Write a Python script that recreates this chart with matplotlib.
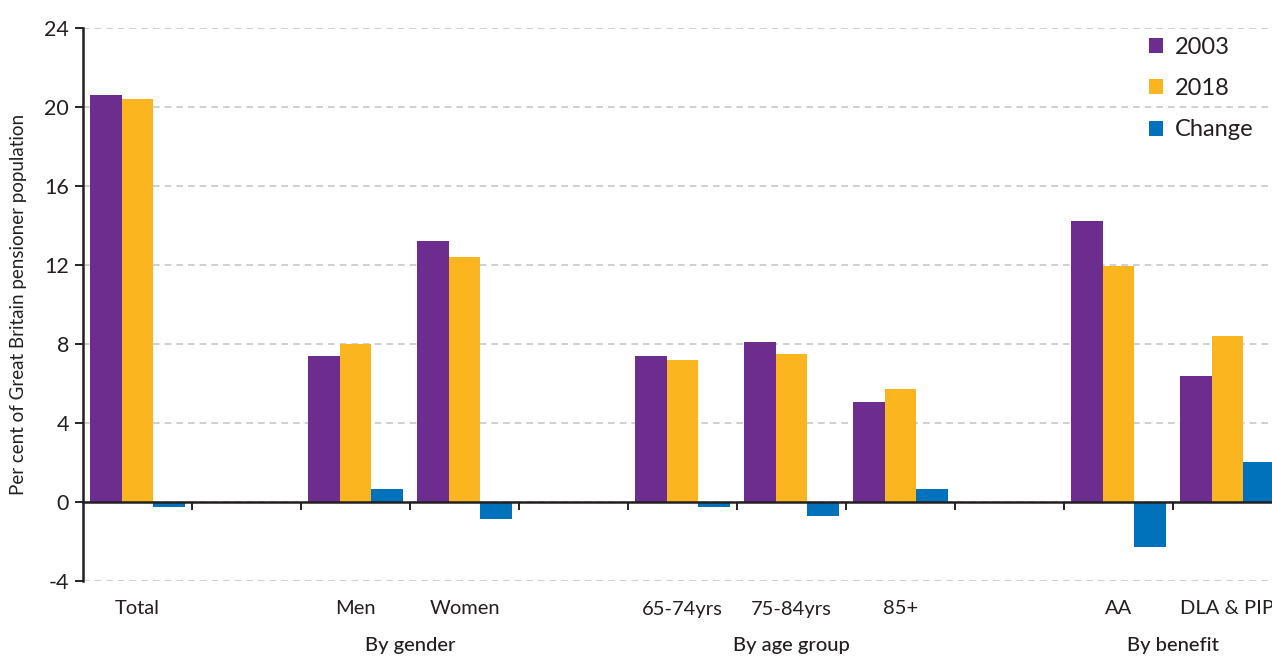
import matplotlib
matplotlib.use('Agg')
import matplotlib.pyplot as plt
import matplotlib.transforms as mtransforms
import numpy as np

plt.rcParams['font.family'] = ['Lato', 'DejaVu Sans']
plt.rcParams['axes.unicode_minus'] = False

categories = ['Total', '', 'Men', 'Women', '', '65-74yrs', '75-84yrs', '85+', '', 'AA', 'DLA & PIP']
groups = [('By gender', 2.5), ('By age group', 6), ('By benefit', 9.5)]
v2003 = [20.6, np.nan, 7.4, 13.2, np.nan, 7.4, 8.1, 5.05, np.nan, 14.25, 6.4]
v2018 = [20.4, np.nan, 8.0, 12.4, np.nan, 7.2, 7.5, 5.7, np.nan, 11.95, 8.4]
change = [-0.25, np.nan, 0.65, -0.85, np.nan, -0.27, -0.7, 0.65, np.nan, -2.3, 2.05]

colors = {
    '2003': '#6C2D8E',
    '2018': '#FBB61F',
    'Change': '#0072BC',
}
text_color = '#231f20'

fig = plt.figure(figsize=(12.72, 6.56), dpi=100)
ax = fig.add_axes([83 / 1272, 1 - 581 / 656, 1199 / 1272, (581 - 28) / 656])

x = np.arange(len(categories))
w = 0.29
ax.bar(x - w, v2003, w, color=colors['2003'], label='2003', zorder=3)
ax.bar(x, v2018, w, color=colors['2018'], label='2018', zorder=3)
ax.bar(x + w, change, w, color=colors['Change'], label='Change', zorder=3)

ax.set_ylim(-4, 24)
ax.set_xlim(-0.5, len(categories) - 0.5)
ax.set_yticks(np.arange(-4, 25, 4))
ax.yaxis.grid(True, linestyle=(0, (4, 3)), color='#c8c8c8', linewidth=1.2, zorder=0)
ax.tick_params(axis='y', length=6, width=1.2, labelsize=15.5, labelcolor=text_color, pad=4)

# x axis drawn at zero, ticks at the slot boundaries
for s in ['top', 'right']:
    ax.spines[s].set_visible(False)
ax.spines['bottom'].set_position(('data', 0))
ax.spines['bottom'].set_linewidth(1.8)
ax.spines['bottom'].set_color(text_color)
ax.spines['bottom'].set_zorder(4)
ax.spines['left'].set_linewidth(1.8)
ax.spines['left'].set_color(text_color)
ax.set_xticks(np.arange(0.5, len(categories) - 0.5, 1))
ax.set_xticklabels([])
ax.tick_params(axis='x', length=6, width=1.2, direction='out')

trans = mtransforms.blended_transform_factory(ax.transData, fig.transFigure)
for xi, lab in zip(x, categories):
    ax.text(xi, 1 - 609 / 656, lab, transform=trans, ha='center', va='center',
            fontsize=14.5, color=text_color)
for lab, gx in groups:
    ax.text(gx, 1 - 645 / 656, lab, transform=trans, ha='center', va='center',
            fontsize=14.5, color=text_color, fontweight='medium')

ax.set_ylabel('Per cent of Great Britain pensioner population', fontsize=13.5,
              color=text_color)
ax.yaxis.set_label_coords(-56 / 1199, 0.5)

ax.legend(loc='upper left', bbox_to_anchor=(1128 / 1272, 1 - 16 / 656),
          bbox_transform=fig.transFigure, frameon=False, fontsize=17,
          handlelength=0.6, handleheight=0.6, handletextpad=0.5,
          labelspacing=0.85, labelcolor=text_color)

plt.savefig('out.png', dpi=100)
